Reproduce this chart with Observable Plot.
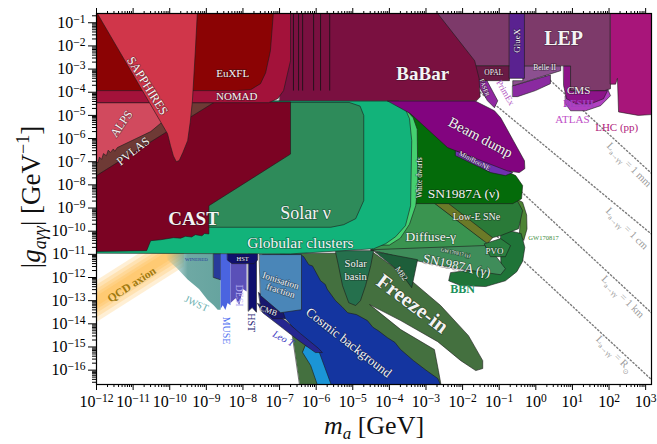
<!DOCTYPE html>
<html><head><meta charset="utf-8">
<script src="https://cdn.jsdelivr.net/npm/d3@7"></script>
<script src="https://cdn.jsdelivr.net/npm/@observablehq/plot@0.6"></script>
<style>body{margin:0;background:#fff;}</style>
</head><body><div id="chart"></div>
<script>
// ---- axis decades (tick labels) ----
const xExponents = [-12,-11,-10,-9,-8,-7,-6,-5,-4,-3,-2,-1,0,1,2,3];
const yExponents = [-16,-15,-14,-13,-12,-11,-10,-9,-8,-7,-6,-5,-4,-3,-2,-1];

// ---- regions: [log10(m_a/GeV), log10(g/GeV^-1)] vertices ----
const qcdBand = [[-12.3,-13.35],[-9.6,-10.65]];
const jwst = [[-10.11,-10.97],[-8.61,-10.97],[-8.61,-13.39],[-8.69,-13.39],[-8.8,-13.2],[-8.97,-12.96],[-9.2,-12.5],[-9.51,-12.09],[-9.8,-11.6],[-10.06,-11.23]];
const winered = [[-8.80,-10.97],[-8.61,-10.97],[-8.61,-12.1],[-8.80,-12.0]];
const muse = [[-8.61,-10.97],[-8.34,-10.97],[-8.34,-13.2],[-8.42,-13.1],[-8.48,-13.4],[-8.55,-13.2],[-8.61,-13.35]];
const desi = [[-8.34,-10.97],[-7.90,-10.97],[-7.90,-12.6],[-8.0,-12.5],[-8.1,-13.2],[-8.2,-12.9],[-8.34,-13.1]];
const hstColumn = [[-7.85,-10.97],[-7.63,-10.97],[-7.63,-13.5],[-7.75,-13.3],[-7.85,-13.45]];
const hstBox = [[-8.42,-10.97],[-7.60,-10.97],[-7.60,-11.25],[-7.7,-11.4],[-8.3,-11.4],[-8.42,-11.25]];
const freezeIn = [[-6.97,-10.97],[-4.43,-10.93],[-3.56,-11.92],[-2.60,-13.21],[-1.84,-14.51],[-1.45,-15.59],[-1.45,-15.93],[-1.64,-16.02],[-2.05,-15.59],[-2.68,-14.77],[-3.69,-13.86],[-4.54,-13.17],[-3.69,-14.25],[-2.77,-15.11],[-2.66,-16.02],[-2.57,-16.8],[-6.43,-16.8]];
const cosmicBg = [[-7.46,-11.01],[-6.43,-11.01],[-6.34,-11.10],[-6.2,-11.45],[-6.1,-11.5],[-5.88,-12.14],[-5.75,-12.3],[-5.7,-12.5],[-5.47,-13.0],[-5.3,-13.25],[-5.14,-13.52],[-4.9,-13.6],[-4.60,-13.86],[-4.45,-14.15],[-4.3,-14.3],[-4.05,-14.60],[-3.85,-14.8],[-3.7,-15.1],[-3.34,-15.59],[-3.0,-16.0],[-2.68,-16.36],[-2.55,-16.8],[-5.61,-16.8],[-5.93,-15.37],[-6.43,-14.51],[-6.84,-13.78],[-7.46,-13.0]];
const lightBlue = [[-6.29,-14.94],[-5.93,-15.16],[-5.55,-16.8],[-5.93,-16.8],[-6.15,-15.8],[-6.37,-15.24]];
const leoT = [[-7.46,-13.21],[-6.84,-13.86],[-6.43,-14.42],[-5.93,-15.07],[-5.83,-15.24],[-6.02,-15.24],[-6.48,-14.72],[-6.97,-14.12],[-7.46,-13.52],[-7.60,-13.13]];
const cmb = [[-7.57,-12.65],[-6.92,-13.43],[-6.84,-13.78],[-7.19,-13.78],[-7.52,-13.21]];
const ionisation = [[-7.55,-11.01],[-6.40,-11.01],[-6.40,-13.39],[-6.97,-13.52],[-7.52,-12.78]];
const bbn = [[-0.96,-9.89],[-0.40,-10.1],[-0.30,-10.7],[-0.36,-11.3],[-0.52,-11.75],[-0.83,-12.14],[-1.37,-12.39],[-2.05,-12.35],[-2.38,-12.14],[-2.33,-11.79],[-1.51,-11.62],[-0.96,-11.70]];
const gw170817 = [[-0.55,-8.6],[-0.36,-8.75],[-0.25,-9.3],[-0.24,-9.9],[-0.33,-10.4],[-0.45,-10.2],[-0.42,-9.3]];
const lowESNe = [[-2.87,-8.77],[-0.55,-8.55],[-0.36,-9.11],[-0.47,-9.89],[-0.96,-10.19],[-1.51,-10.41],[-2.33,-9.33]];
const oliveSliver = [[-2.79,-8.77],[-2.38,-8.81],[-1.18,-10.28],[-1.32,-10.54]];
const diffuseGamma = [[-4.10,-8.77],[-2.79,-8.77],[-1.32,-10.54],[-1.40,-10.67],[-4.51,-10.84],[-4.30,-10.41],[-4.10,-9.76]];
const sn1987aGamma = [[-4.51,-10.80],[-1.40,-10.62],[-1.10,-11.06],[-0.83,-11.62],[-0.96,-11.88],[-2.33,-11.57],[-3.69,-11.14]];
const pvo = [[-1.40,-10.54],[-0.96,-10.32],[-0.69,-10.62],[-0.83,-11.10],[-1.23,-11.10]];
const m82 = [[-4.40,-10.88],[-3.23,-11.23],[-3.39,-12.44],[-3.69,-11.79]];
const solarBasin = [[-5.47,-10.84],[-4.43,-10.84],[-4.51,-11.49],[-4.65,-12.35],[-4.79,-13.0],[-4.92,-13.21],[-5.11,-13.09],[-5.28,-12.35],[-5.39,-11.49]];
const sn1987aNu = [[-3.45,-4.8],[-2.6,-5.45],[-1.78,-6.31],[-0.96,-7.3],[-0.55,-7.6],[-0.36,-8.03],[-0.39,-8.6],[-0.63,-8.81],[-3.45,-8.81]];
const whiteDwarfs = [[-3.75,-4.6],[-3.55,-4.75],[-3.35,-5.1],[-3.24,-5.6],[-3.22,-8.0],[-3.28,-8.9],[-3.45,-9.7],[-3.7,-10.3],[-4.0,-10.6],[-4.5,-10.6],[-4.5,-4.6]];
const globular = [[-12,-9.83],[-12,-10.95],[-6.7,-10.98],[-4.43,-10.76],[-4.10,-10.54],[-3.83,-10.24],[-3.56,-9.76],[-3.42,-8.9],[-3.39,-6.09],[-3.45,-5.14],[-3.6,-4.6],[-3.75,-4.37],[-9,-4.37],[-9,-9.83]];
const solarNu = [[-9.2,-4.44],[-5.1,-4.44],[-4.8,-4.6],[-4.7,-5.0],[-4.7,-8.68],[-4.92,-9.46],[-5.25,-9.72],[-5.6,-9.83],[-9.2,-9.83]];
const cast = [[-12,-4.42],[-6.70,-4.42],[-6.70,-6.67],[-8.93,-8.90],[-8.93,-10.12],[-9.05,-10.1],[-9.12,-10.2],[-9.3,-10.15],[-9.4,-10.25],[-9.57,-10.22],[-9.7,-10.3],[-9.9,-10.28],[-10.25,-10.37],[-10.52,-10.41],[-10.63,-10.84],[-12,-10.88]];
const alps = [[-12,-4.45],[-9.4,-4.45],[-12,-7.6]];
const pvlas = [[-12,-7.6],[-8.8,-4.45],[-9.57,-4.45],[-10.52,-5.7],[-11.43,-6.39],[-11.5,-6.55],[-11.54,-6.45],[-11.62,-6.6],[-11.68,-6.5],[-11.73,-6.74],[-11.81,-6.65],[-11.86,-6.9],[-11.92,-6.8],[-11.96,-7.05],[-12,-7.0]];
const miniBooNE = [[-2.19,-6.52],[-0.83,-7.30],[-0.63,-7.47],[-0.83,-7.60],[-1.23,-7.47],[-2.19,-6.74]];
const beamDump = [[-4.05,-4.37],[-1.67,-4.37],[-1.13,-4.8],[-0.96,-5.1],[-0.31,-6.96],[-0.3,-7.3],[-0.45,-7.47],[-0.77,-7.4],[-2.41,-6.39],[-3.42,-4.93]];
const faser = [[-1.62,-3.16],[-1.45,-3.16],[-1.04,-4.37],[-1.13,-4.67],[-1.32,-4.37],[-1.56,-3.72]];
const besiii = [[-0.63,-3.72],[0.40,-3.25],[0.40,-3.63],[-0.01,-3.93],[-0.50,-4.19],[-0.63,-4.19]];
const belle2 = [[-0.36,-2.86],[0.68,-2.86],[0.68,-3.07],[-0.63,-3.72],[-0.63,-3.5],[-0.36,-3.5]];
const atlas = [[0.81,-4.15],[1.96,-3.85],[2.04,-4.15],[1.77,-4.58],[1.36,-4.80],[0.95,-4.80],[0.81,-4.50]];
const cms = [[0.76,-2.86],[0.95,-2.86],[0.95,-3.93],[1.96,-3.93],[1.85,-4.28],[1.50,-4.50],[1.09,-4.50],[0.84,-4.28],[0.76,-3.72]];
const lep = [[-3.0,-0.4],[2.04,-0.4],[2.04,-3.85],[1.88,-3.93],[0.95,-3.93],[0.95,-2.86],[-1.8,-2.86]];
const opal = [[-1.67,-2.86],[-0.72,-2.86],[-0.72,-3.5],[-1.6,-3.5]];
const gluex = [[-0.72,-0.4],[-0.31,-0.4],[-0.31,-3.4],[-0.72,-3.4]];
const lhc = [[2.04,-0.4],[3.3,-0.4],[3.3,-4.95],[2.8,-5.0],[2.26,-4.85],[2.23,-3.4],[2.18,-3.65],[2.04,-3.65]];
const babar = [[-7.0,-0.4],[-2.78,-0.4],[-1.67,-2.64],[-1.55,-3.4],[-1.52,-4.2],[-1.62,-4.37],[-7.0,-4.37]];
const babarLines = [-6.62,-6.48,-6.37,-6.07,-5.88,-5.63];
const nomad = [[-12,-0.4],[-6.7,-0.4],[-6.7,-2.64],[-6.89,-3.93],[-7.05,-4.28],[-7.3,-4.45],[-12,-4.45]];
const euxfl = [[-12,-0.4],[-7.16,-0.4],[-7.25,-2.21],[-7.38,-3.16],[-7.52,-3.63],[-7.79,-3.89],[-8.2,-3.93],[-12,-3.93]];
const sapphires = [[-12.05,-0.4],[-10.06,-5.79],[-9.98,-6.3],[-9.9,-6.75],[-9.82,-7.0],[-9.74,-6.95],[-9.64,-6.6],[-9.51,-6.09],[-9.44,-5.3],[-9.38,-4.37],[-9.3,-2.21],[-9.24,-0.4]];

// decay-length contours
const decay1mm = [[-0.5,-2.19],[3.4,-7.85]];
const decay1cm = [[-1.6,-3.9],[3.4,-10.44]];
const decay1km = [[-0.4,-8.29],[3.4,-13.88]];
const decayRsun = [[-1.2,-10.02],[3.4,-16.76]];

// ---- styles ----
const C = {
  jwst:"#5e9f9a", winered:"#283a9a", muse:"#4a64e0", desi:"#5a50b8", hst:"#10106e",
  freeze:"#44703f", cosmic:"#1435a0", light:"#1b95d6", leo:"#262690", cmb:"#18186e", ion:"#4a86b8",
  bbn:"#1f7438", gw:"#4d8434", lowe:"#2a7a38", olive:"#6b7a28", diffuse:"#3a9450", sng:"#3f8d5a",
  pvo:"#2a7f40", m82:"#1d5e3a", basin:"#25704d", snnu:"#046b0a", wd:"#45d070", gc:"#12b37a",
  solar:"#2e8b5a", cast:"#7b0323", alps:"#d14a5e", pvlas:"#6e3a35", mini:"#7030b0",
  beam:"#82047f", faser:"#9028a0", bes:"#8a2aa0", belle:"#8c5090", atlas:"#b040c0", cms:"#8c1488",
  lep:"#7d3a6a", opal:"#6a1a45", gluex:"#5a2290", lhc:"#a8157a", babar:"#7a1040", nomad:"#a3123a",
  euxfl:"#8b0304", sapph:"#d0364a"
};

function poly(pts, fill, o = {}) {
  return Plot.line(pts, {x: d => 10 ** d[0], y: d => 10 ** d[1], curve: "linear-closed",
    fill, stroke: "#1b1b1b", strokeWidth: 0.6, strokeLinejoin: "round", clip: true, ...o});
}
function dline(pts) {
  return Plot.line(pts, {x: d => 10 ** d[0], y: d => 10 ** d[1], stroke: "#7a7a7a",
    strokeWidth: 1.4, strokeDasharray: "1.3,2.4", clip: true});
}
const halo = {fill: "#f4f4f4", stroke: "#111", strokeOpacity: 0.35, strokeWidth: 1.6};
const labels = [
  ["SAPPHIRES", -10.61, -3.72, {rotate: 58, fontSize: 12.5}],
  ["EuXFL", -8.28, -3.20, {fontSize: 11}],
  ["NOMAD", -8.17, -4.19, {fontSize: 11}],
  ["ALPS", -11.32, -5.36, {rotate: -55, fontSize: 12}],
  ["PVLAS", -11.0, -6.55, {rotate: -38, fontSize: 12}],
  ["CAST", -9.35, -9.46, {fontSize: 19, fontWeight: "bold"}],
  ["Solar ν", -6.29, -9.24, {fontSize: 18}],
  ["Globular clusters", -6.43, -10.52, {fontSize: 15.5}],
  ["BaBar", -3.09, -3.22, {fontSize: 19, fontWeight: "bold"}],
  ["LEP", 0.76, -1.68, {fontSize: 20, fontWeight: "bold"}],
  ["GlueX", -0.52, -1.78, {rotate: -90, fontSize: 9}],
  ["OPAL", -1.15, -3.16, {fontSize: 7.5}],
  ["Belle II", 0.24, -2.95, {fontSize: 7.5}],
  ["FASER", -1.40, -3.8, {rotate: 70, fontSize: 6}],
  ["CMS", 1.17, -3.93, {fontSize: 11}],
  ["Beam dump", -1.51, -5.96, {rotate: 28, fontSize: 14.5}],
  ["MiniBooNE", -1.67, -6.96, {rotate: 28, fontSize: 7}],
  ["White dwarfs", -3.17, -7.69, {rotate: -90, fontSize: 7.5}],
  ["SN1987A (ν)", -1.97, -8.38, {fontSize: 13.5}],
  ["Low-E SNe", -1.62, -9.37, {fontSize: 10}],
  ["Diffuse-γ", -2.87, -10.24, {fontSize: 13.5}],
  ["PVO", -1.13, -10.84, {fontSize: 9}],
  ["GW170817 (γ)", -2.19, -10.93, {rotate: 12, fontSize: 5}],
  ["SN1987A (γ)", -2.16, -11.49, {rotate: 12, fontSize: 13}],
  ["M82", -3.67, -11.83, {rotate: 55, fontSize: 8}],
  ["Solar", -4.92, -11.40, {fontSize: 10.5}],
  ["basin", -4.92, -11.96, {fontSize: 10.5}],
  ["Freeze-in", -3.37, -13.13, {rotate: 37, fontSize: 21, fontWeight: "bold"}],
  ["Cosmic background", -5.11, -14.81, {rotate: 38, fontSize: 13}],
  ["Ionisation", -6.97, -12.14, {rotate: 18, fontSize: 9.5}],
  ["fraction", -6.97, -12.57, {rotate: 18, fontSize: 9.5}],
  ["CMB", -7.30, -13.43, {rotate: 20, fontSize: 8}],
  ["HST", -8.01, -11.19, {fontSize: 6.5}],
  ["WINERED", -9.27, -11.23, {fontSize: 5, fill: "#2a3a9a", stroke: "none"}],
  ["JWST", -9.27, -13.13, {rotate: 25, fontSize: 10, fill: "#6ab0b0", stroke: "none"}],
  ["MUSE", -8.45, -14.29, {rotate: 90, fontSize: 10, fill: "#5070f0", stroke: "none"}],
  ["DESI", -8.09, -12.78, {rotate: 90, fontSize: 10, fill: "#b8b0f4", stroke: "none"}],
  ["HST", -7.77, -13.95, {rotate: 90, fontSize: 10, fill: "#181870", stroke: "none"}],
  ["Leo T", -6.89, -14.64, {rotate: 28, fontSize: 10, fontStyle: "italic", fill: "#3838c0", stroke: "none"}],
  ["QCD axion", -11.04, -12.31, {rotate: -33, fontSize: 11.5, fontWeight: "bold", fill: "#a07a10", stroke: "none"}],
  ["BBN", -2.0, -12.52, {fontSize: 12, fontWeight: "bold", fill: "#20905a", stroke: "none"}],
  ["GW170817", 0.21, -10.28, {fontSize: 6.5, fill: "#3a8a3a", stroke: "none"}],
  ["PrimEx", -0.83, -4.02, {rotate: 60, fontSize: 9, fill: "#b050c0", stroke: "none"}],
  ["BESIII", 1.17, -4.5, {fontSize: 10, fontWeight: "bold", fill: "#a040c0", stroke: "none"}],
  ["ATLAS", 1.0, -5.19, {fontSize: 11, fill: "#c050c8", stroke: "none"}],
  ["LHC (pp)", 2.21, -5.53, {fontSize: 11, fill: "#b0207a", stroke: "none"}]
];
const decayLabels = [["1 mm", 2.50, -7.25, "mm"], ["1 cm", 2.44, -10.0, "cm"], ["1 km", 2.33, -12.95, "km"], ["R", 2.10, -15.42, "sun"]];

const xDomain = [1e-12, 10 ** 3.16], yDomain = [10 ** -16.62, 10 ** -0.6];
const inX = v => v >= xDomain[0] * 0.999 && v <= xDomain[1];
const inY = v => v >= yDomain[0] && v <= yDomain[1] * 1.001;
const xMajor = xExponents.map(e => 10 ** e);
const yMajor = yExponents.map(e => 10 ** e);
const minorOf = exps => exps.concat([exps[exps.length - 1] + 1, exps[0] - 1]).flatMap(e => [2,3,4,5,6,7,8,9].map(j => j * 10 ** e));
const xMinor = minorOf(xExponents).filter(inX);
const yMinor = minorOf(yExponents).filter(inY);
const fmt = d => "10^" + Math.round(Math.log10(d));
const FONT = "Liberation Serif";

const gradDefs = () => {
  const ns = "http://www.w3.org/2000/svg";
  const defs = document.createElementNS(ns, "defs");
  defs.innerHTML = `<linearGradient id="jwstGrad" x1="0" x2="1" y1="0" y2="0">
    <stop offset="0" stop-color="${C.jwst}" stop-opacity="0"/>
    <stop offset="0.4" stop-color="${C.jwst}" stop-opacity="0.9"/>
    <stop offset="1" stop-color="${C.jwst}" stop-opacity="0.95"/></linearGradient>`;
  return defs;
};

const marks = [
  gradDefs,
  dline(decay1mm), dline(decay1cm), dline(decay1km), dline(decayRsun),
  ...[0.9, 0.7, 0.52, 0.36, 0.22].map(w => Plot.areaY(qcdBand, {x: d => 10 ** d[0], y1: d => 10 ** (d[1] - w), y2: d => 10 ** (d[1] + w), fill: "#fdb53a", fillOpacity: 0.22, clip: true})),
  poly(jwst, "url(#jwstGrad)", {stroke: "none"}),
  poly(winered, C.winered), poly(muse, C.muse, {stroke: "none"}), poly(desi, C.desi, {stroke: "none"}),
  poly(hstColumn, C.hst), poly(hstBox, C.hst),
  poly(freezeIn, C.freeze),
  poly(cosmicBg, C.cosmic), poly(lightBlue, C.light), poly(leoT, C.leo), poly(cmb, C.cmb), poly(ionisation, C.ion),
  poly(gw170817, C.gw), poly(bbn, C.bbn), poly(lowESNe, C.lowe), poly(oliveSliver, C.olive),
  poly(diffuseGamma, C.diffuse), poly(sn1987aGamma, C.sng), poly(pvo, C.pvo),
  poly(m82, C.m82), poly(solarBasin, C.basin),
  poly(sn1987aNu, C.snnu), poly(whiteDwarfs, C.wd), poly(globular, C.gc), poly(solarNu, C.solar),
  poly(cast, C.cast), poly(alps, C.alps), poly(pvlas, C.pvlas),
  poly(miniBooNE, C.mini), poly(beamDump, C.beam), poly(faser, C.faser),
  poly(besiii, C.bes), poly(belle2, C.belle), poly(atlas, C.atlas), poly(cms, C.cms),
  poly(lep, C.lep), poly(opal, C.opal), poly(gluex, C.gluex), poly(lhc, C.lhc),
  poly(babar, C.babar),
  Plot.ruleX(babarLines, {x: d => 10 ** d, y1: 10 ** -3.95, y2: 1, stroke: "#111", strokeWidth: 0.8, clip: true}),
  poly(nomad, C.nomad), poly(euxfl, C.euxfl), poly(sapphires, C.sapph),
  ...labels.map(([t, lx, ly, o]) => Plot.text([t], {x: () => 10 ** lx, y: () => 10 ** ly, text: d => d,
      fontFamily: FONT, ...halo, ...o})),
  Plot.frame({stroke: "#000", strokeWidth: 1.2}),
  Plot.axisX({ticks: xMajor, tickFormat: fmt, tickSize: 6, tickPadding: 5, fontSize: 16, fontFamily: FONT, label: null, anchor: "bottom"}),
  Plot.axisX({ticks: xMinor, tickFormat: () => "", tickSize: 3, label: null, anchor: "bottom"}),
  Plot.axisX({ticks: xMajor, tickFormat: () => "", tickSize: 6, label: null, anchor: "top"}),
  Plot.axisX({ticks: xMinor, tickFormat: () => "", tickSize: 3, label: null, anchor: "top"}),
  Plot.axisY({ticks: yMajor, tickFormat: fmt, tickSize: 8, tickPadding: 3, fontSize: 16, fontFamily: FONT, label: null, anchor: "left"}),
  Plot.axisY({ticks: yMinor, tickFormat: () => "", tickSize: 4, label: null, anchor: "left"})
];

const plot = Plot.plot({
  width: 657, height: 444, marginLeft: 96, marginRight: 6, marginTop: 13, marginBottom: 60,
  x: {type: "log", domain: xDomain, label: null},
  y: {type: "log", domain: yDomain, label: null},
  style: {fontFamily: FONT, background: "white", overflow: "visible"},
  marks
});
document.getElementById("chart").appendChild(plot);
const svg = plot.tagName.toLowerCase() === "svg" ? plot : plot.querySelector("svg");
const NS = "http://www.w3.org/2000/svg";

// superscript exponents in tick labels
svg.querySelectorAll("text").forEach(t => {
  const m = /^10\^(-?\d+)$/.exec(t.textContent);
  if (m) {
    t.textContent = "10";
    const s = document.createElementNS(NS, "tspan");
    s.setAttribute("dy", "-0.45em");
    s.setAttribute("font-size", "0.72em");
    s.textContent = m[1].replace("-", "\u2212");
    t.appendChild(s);
  }
});

const sx = plot.scale("x"), sy = plot.scale("y");
const S = d3.select(svg);
// decay-length labels
decayLabels.forEach(([v, lx, ly, unit]) => {
  const t = S.append("text").attr("transform", `translate(${sx.apply(10 ** lx)},${sy.apply(10 ** ly)}) rotate(45)`)
    .attr("text-anchor", "middle").attr("font-family", FONT).attr("font-size", 10.5).attr("fill", "#9a9a9a");
  t.append("tspan").text("L");
  t.append("tspan").attr("font-size", 7).attr("dy", 3).text("a→γγ");
  if (unit === "sun") {
    t.append("tspan").attr("dy", -3).text(" = R");
    t.append("tspan").attr("font-size", 7).attr("dy", 3).text("⊙");
  } else {
    t.append("tspan").attr("dy", -3).text(" = " + v);
  }
});
// axis titles
const yt = S.append("text").attr("transform", "translate(40,197) rotate(-90)").attr("text-anchor", "middle")
  .attr("font-family", FONT).attr("font-size", 27).attr("fill", "#111");
yt.append("tspan").text("|");
yt.append("tspan").attr("font-style", "italic").text("g");
yt.append("tspan").attr("font-style", "italic").attr("font-size", 18).attr("dy", 6).text("aγγ");
yt.append("tspan").attr("dy", -6).text("| [GeV");
yt.append("tspan").attr("font-size", 18).attr("dy", -11).text("\u22121");
yt.append("tspan").attr("dy", 11).text("]");
const xt = S.append("text").attr("x", 374).attr("y", 434).attr("text-anchor", "middle")
  .attr("font-family", FONT).attr("font-size", 26).attr("fill", "#111");
xt.append("tspan").attr("font-style", "italic").text("m");
xt.append("tspan").attr("font-style", "italic").attr("font-size", 17).attr("dy", 5).text("a");
xt.append("tspan").attr("dy", -5).text(" [GeV]");
</script></body></html>
